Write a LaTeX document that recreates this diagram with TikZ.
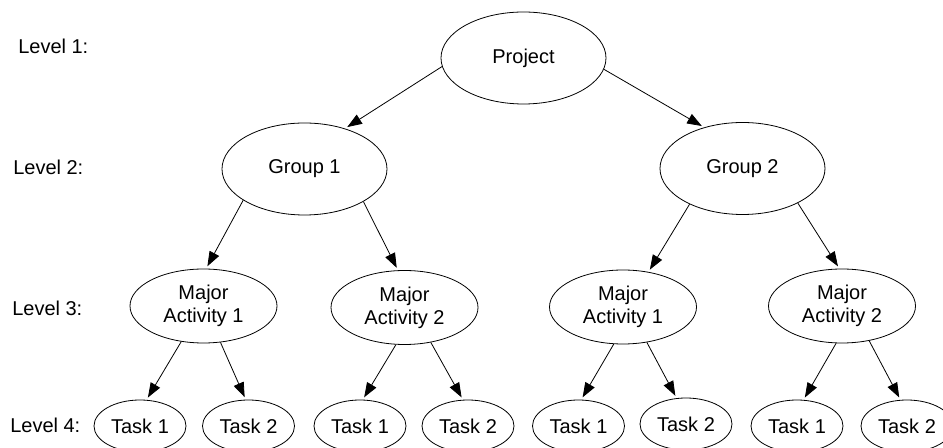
\documentclass[tikz,border=0pt]{standalone}
\usepackage{fontspec}
\setmainfont{Liberation Sans}
\usetikzlibrary{shapes.geometric,arrows.meta}

\begin{document}
\begin{tikzpicture}[
    x=0.75pt, y=-0.75pt,
    every node/.style={font=\fontsize{15}{17.5}\selectfont},
    oval/.style={draw, ellipse, inner sep=0pt, line width=0.6pt, align=center},
    big/.style={oval, minimum width=123.75pt, minimum height=69pt},
    activity/.style={oval, minimum width=110.25pt, minimum height=55.5pt},
    task/.style={oval, minimum width=69pt, minimum height=39pt},
    level/.style={anchor=base west, inner sep=0pt},
    arrow/.style={-{Triangle[length=11pt,width=8pt]}, line width=0.6pt, shorten >=2pt}
]
\path[use as bounding box, clip] (0,0) rectangle (943,448);

\node[level] at (18,54) (lev1) {Level 1:};
\node[level] at (13,175) (lev2) {Level 2:};
\node[level] at (12,316) (lev3) {Level 3:};
\node[level] at (10,433) (lev4) {Level 4:};

\node[big] at (523.5,58) (project) {Project};
\node[big] at (304.5,169) (group1) {Group 1};
\node[big] at (742.5,168.5) (group2) {Group 2};

\node[activity] at (203.5,306) (major11) {Major\\Activity 1};
\node[activity] at (404.5,307.5) (major12) {Major\\Activity 2};
\node[activity] at (623,307) (major21) {Major\\Activity 1};
\node[activity] at (842,306) (major22) {Major\\Activity 2};

\node[task] at (140,426) (task111) {Task 1};
\node[task] at (248.5,426) (task112) {Task 2};
\node[task] at (360,426) (task121) {Task 1};
\node[task] at (468,426) (task122) {Task 2};
\node[task] at (578.5,426) (task211) {Task 1};
\node[task] at (686,424) (task212) {Task 2};
\node[task] at (797,426) (task221) {Task 1};
\node[task] at (907,426) (task222) {Task 2};

\draw[arrow] (project.186) -- (group1.45);
\draw[arrow] (project.352) -- (group2.133);
\draw[arrow] (group1.207) -- (major11.86);
\draw[arrow] (group1.331) -- (major12.100);
\draw[arrow] (group2.214) -- (major21.54);
\draw[arrow] (group2.328) -- (major22.94);
\draw[arrow] (major11.238) -- (task111.76);
\draw[arrow] (major11.295) -- (task112.96);
\draw[arrow] (major12.257) -- (task121.84);
\draw[arrow] (major12.307) -- (task122.101);
\draw[arrow] (major21.256) -- (task211.84);
\draw[arrow] (major21.304) -- (task212.110);
\draw[arrow] (major22.261) -- (task221.76);
\draw[arrow] (major22.308) -- (task222.104);
\end{tikzpicture}
\end{document}
